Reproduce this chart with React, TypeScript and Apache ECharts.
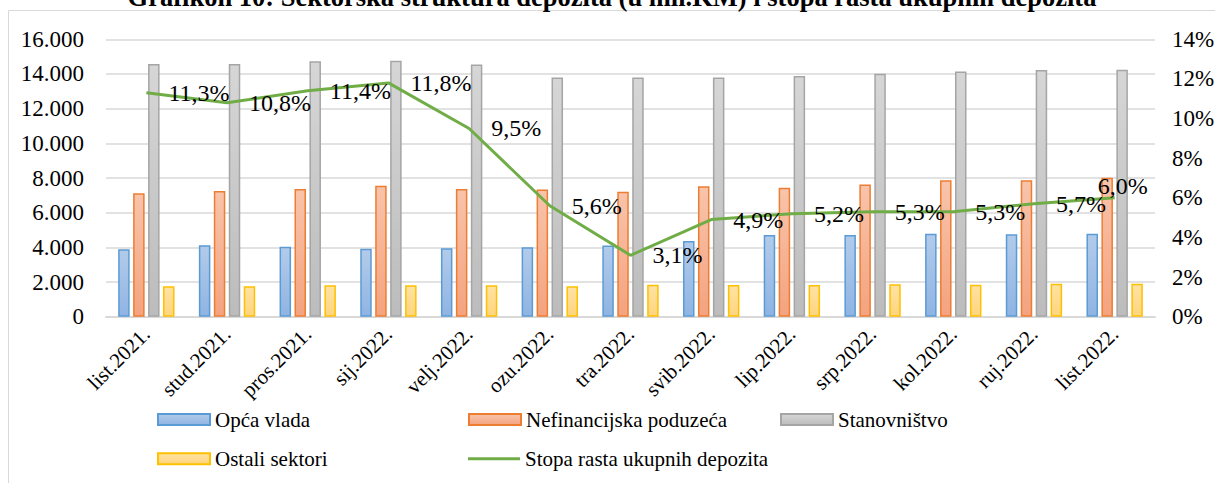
import React, { useEffect, useRef } from "react";
import * as echarts from "echarts";

const categories = [
  "list.2021.", "stud.2021.", "pros.2021.", "sij.2022.", "velj.2022.", "ozu.2022.",
  "tra.2022.", "svib.2022.", "lip.2022.", "srp.2022.", "kol.2022.", "ruj.2022.", "list.2022.",
];
const opcaVlada = [3890, 4120, 4040, 3920, 3950, 4000, 4100, 4370, 4710, 4710, 4790, 4750, 4790];
const nefinancijska = [7120, 7250, 7370, 7560, 7370, 7330, 7210, 7520, 7440, 7620, 7870, 7870, 8020];
const stanovnistvo = [14580, 14580, 14730, 14770, 14540, 13790, 13790, 13790, 13890, 14020, 14140, 14230, 14250];
const ostali = [1750, 1750, 1810, 1810, 1810, 1750, 1850, 1830, 1830, 1870, 1850, 1900, 1900];
const stopaRasta = [11.3, 10.8, 11.4, 11.8, 9.5, 5.6, 3.1, 4.9, 5.2, 5.3, 5.3, 5.7, 6.0];

const seriesNames = ["Opća vlada", "Nefinancijska poduzeća", "Stanovništvo", "Ostali sektori", "Stopa rasta ukupnih depozita"];
const title = "Grafikon 10: Sektorska struktura depozita (u mil.KM) i stopa rasta ukupnih depozita";

const FONT = "Liberation Serif";

const grad = (top: string, bottom: string) =>
  new echarts.graphic.LinearGradient(0, 0, 0, 1, [
    { offset: 0, color: top },
    { offset: 1, color: bottom },
  ]);

const fmtThousands = (v: number) => {
  const s = Math.round(v).toString();
  return s.replace(/\B(?=(\d{3})+(?!\d))/g, ".");
};

export default function App() {
  const ref = useRef<HTMLDivElement>(null);
  useEffect(() => {
    if (!ref.current) return;
    const chart = echarts.init(ref.current, undefined, { renderer: "svg" });

    const barStyle = (top: string, bottom: string, border: string) => ({
      color: grad(top, bottom),
      borderColor: border,
      borderWidth: 1.5,
    });

    const legendBase = {
      orient: "horizontal" as const,
      padding: 0,
      itemWidth: 52,
      itemHeight: 11,
      itemGap: 5,
      textStyle: { fontFamily: FONT, fontSize: 21, color: "#000", lineHeight: 22 },
    };

    const lineData = stopaRasta.map((v, i) =>
      i === stopaRasta.length - 1
        ? { value: v, label: { position: "top", distance: 5, offset: [8, 5] } }
        : v
    );

    chart.setOption({
      animation: false,
      textStyle: { fontFamily: FONT },
      graphic: [
        {
          type: "rect",
          shape: { x: 8.5, y: 10.5, width: 1300, height: 600 },
          style: { fill: "none", stroke: "#d9d9d9", lineWidth: 1 },
          silent: true,
          z: -10,
        },
        {
          type: "text",
          x: 612,
          y: -3,
          style: {
            text: title,
            fontFamily: FONT,
            fontSize: 26.5,
            fontWeight: "bold",
            fill: "#000",
            align: "center",
            verticalAlign: "middle",
          },
        },
      ],
      grid: {
        left: 106,
        right: 60,
        top: 39.3,
        bottom: 166.3,
        containLabel: false,
        outerBoundsMode: "none",
      },
      legend: [
        { ...legendBase, left: 157, top: 408.6, data: [seriesNames[0]], icon: "rect" },
        { ...legendBase, left: 468, top: 408.6, data: [seriesNames[1]], icon: "rect" },
        { ...legendBase, left: 780, top: 408.6, data: [seriesNames[2]], icon: "rect" },
        { ...legendBase, left: 157, top: 447.7, data: [seriesNames[3]], icon: "rect" },
        {
          ...legendBase,
          left: 468,
          top: 447.7,
          data: [seriesNames[4]],
          icon: "path://M0,0L52,0L52,3L0,3Z",
          itemHeight: 3,
          itemStyle: { color: "#70ad47", borderWidth: 0 },
          lineStyle: { opacity: 0 },
        },
      ],
      xAxis: {
        type: "category",
        data: categories,
        axisLine: { lineStyle: { color: "#d9d9d9", width: 2 } },
        axisTick: { show: false },
        axisLabel: {
          interval: 0,
          rotate: 45,
          margin: 14,
          fontFamily: FONT,
          fontSize: 21,
          color: "#000",
        },
      },
      yAxis: [
        {
          type: "value",
          min: 0,
          max: 16000,
          interval: 2000,
          axisLine: { show: false },
          axisTick: { show: false },
          splitLine: { lineStyle: { color: "#d9d9d9", width: 1.5 } },
          axisLabel: {
            margin: 22,
            fontFamily: FONT,
            fontSize: 23,
            color: "#000",
            formatter: (v: number) => fmtThousands(v),
          },
        },
        {
          type: "value",
          min: 0,
          max: 14,
          interval: 2,
          position: "right",
          axisLine: { show: false },
          axisTick: { show: false },
          splitLine: { show: false },
          axisLabel: {
            margin: 17,
            fontFamily: FONT,
            fontSize: 23,
            color: "#000",
            formatter: (v: number) => `${v}%`,
          },
        },
      ],
      series: [
        { name: seriesNames[0], type: "bar", data: opcaVlada, barWidth: 11.5, barGap: "30%", itemStyle: barStyle("#b2cbea", "#8fb4e3", "#5b9bd5") },
        { name: seriesNames[1], type: "bar", data: nefinancijska, barWidth: 11.5, barGap: "30%", itemStyle: barStyle("#f8c4ab", "#f4a37f", "#ed7d31") },
        { name: seriesNames[2], type: "bar", data: stanovnistvo, barWidth: 11.5, barGap: "30%", itemStyle: barStyle("#d6d6d6", "#bcbcbc", "#a5a5a5") },
        { name: seriesNames[3], type: "bar", data: ostali, barWidth: 11.5, barGap: "30%", itemStyle: barStyle("#ffe2a3", "#ffd57e", "#ffc000") },
        {
          name: seriesNames[4],
          type: "line",
          yAxisIndex: 1,
          data: lineData,
          symbol: "circle",
          symbolSize: 0.1,
          showSymbol: true,
          lineStyle: { color: "#70ad47", width: 3 },
          itemStyle: { color: "#70ad47" },
          z: 5,
          label: {
            show: true,
            position: "right",
            distance: 22,
            fontFamily: FONT,
            fontSize: 24,
            color: "#000",
            formatter: (p: any) => `${Number(p.value).toFixed(1).replace(".", ",")}%`,
          },
        },
      ],
    });
    return () => chart.dispose();
  }, []);

  return (
    <div
      ref={ref}
      style={{ position: "absolute", left: 0, top: 0, width: 1215, height: 483, background: "#fff" }}
    />
  );
}
